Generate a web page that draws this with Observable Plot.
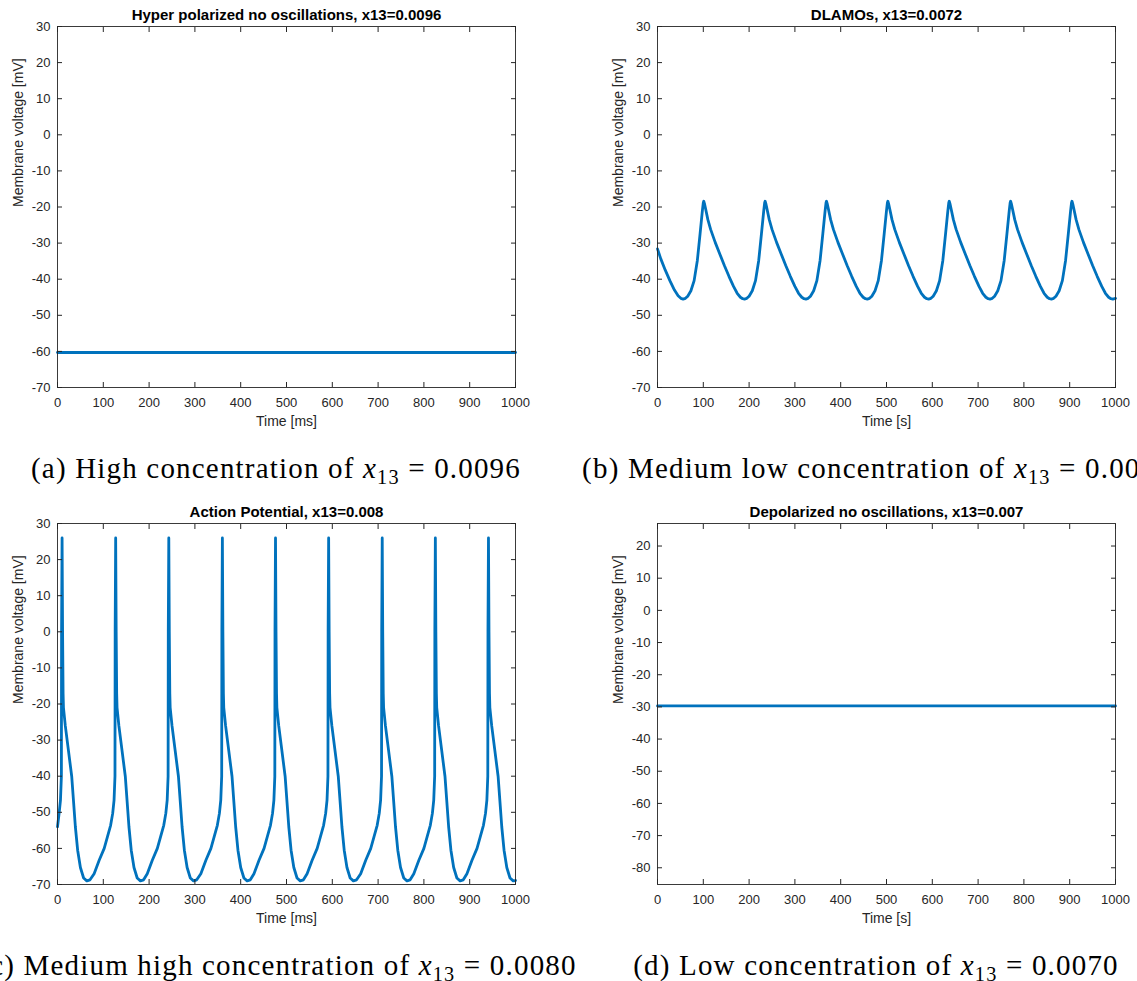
<!DOCTYPE html>
<html><head><meta charset="utf-8">
<script src="https://cdn.jsdelivr.net/npm/d3@7"></script>
<script src="https://cdn.jsdelivr.net/npm/@observablehq/plot@0.6"></script>
<style>
html,body{margin:0;padding:0;background:#fff;width:1137px;height:981px;overflow:hidden;position:relative}
.panel{position:absolute}
.cap{position:absolute;width:700px;text-align:center;white-space:nowrap;font-family:"Liberation Serif","DejaVu Serif",serif;font-size:29px;line-height:34px;color:#000}
.cap sub{font-size:0.7em;vertical-align:baseline;position:relative;top:0.3em}
</style></head><body>
<div id="pa" class="panel" style="left:0;top:6px"></div>
<div id="pb" class="panel" style="left:600px;top:6px"></div>
<div id="pc" class="panel" style="left:0;top:503px"></div>
<div id="pd" class="panel" style="left:600px;top:503px"></div>
<div class="cap" style="left:-74px;top:451px"><span>(a) High concentration of <i>x</i><sub>13</sub> = 0.0096</span></div>
<div class="cap" style="left:527px;top:451px"><span>(b) Medium low concentration of <i>x</i><sub>13</sub> = 0.0072</span></div>
<div class="cap" style="left:-72px;top:948px"><span>(c) Medium high concentration of <i>x</i><sub>13</sub> = 0.0080</span></div>
<div class="cap" style="left:526px;top:948px"><span>(d) Low concentration of <i>x</i><sub>13</sub> = 0.0070</span></div>
<script>
// ---- tick values ----
const xTicks = [0,100,200,300,400,500,600,700,800,900,1000];
const yTicksABC = [-70,-60,-50,-40,-30,-20,-10,0,10,20,30];
const yTicksD = [-80,-70,-60,-50,-40,-30,-20,-10,0,10,20];

// ---- titles & labels ----
const titles = [
  "Hyper polarized no oscillations, x13=0.0096",
  "DLAMOs, x13=0.0072",
  "Action Potential, x13=0.008",
  "Depolarized no oscillations, x13=0.007"
];
const xLabels = ["Time [ms]", "Time [s]", "Time [ms]", "Time [s]"];
const yLabel = "Membrane voltage [mV]";

// ---- (a) hyper polarized: flat ----
const aTime = [0, 1000];
const aVolt = [-60.3, -60.3];

// ---- (b) DLAMOs ----
const bTime = [
  0,7,17,27,37,45,51,56,
  61,66,73,80,87,93,98,100,101,103,105,110,116,126,136,146,156,166,174,181,186,190,
  195,200,207,214,221,227,232,234,235,237,239,244,250,260,270,280,290,300,308,315,320,324,
  329,334,341,348,355,361,366,368,369,371,373,378,384,394,404,414,424,434,442,449,454,458,
  463,468,475,482,489,495,500,502,503,505,507,512,518,528,538,548,558,568,576,583,588,592,
  597,602,609,616,623,629,634,636,637,639,641,646,652,662,672,682,692,702,710,717,722,726,
  731,736,743,750,757,763,768,770,771,773,775,780,786,796,806,816,826,836,844,851,856,860,
  865,870,877,884,891,897,902,904,905,907,909,914,920,930,940,950,960,970,978,985,990,994,
  1000
];
const bVolt = [
  -31.6,-34.3,-37.5,-40.4,-43,-44.6,-45.3,-45.5,
  -45.3,-44.7,-43.2,-40.4,-34.8,-27.4,-21,-18.8,-18.4,-19.3,-20.5,-23.5,-26.2,-29.8,-33,-36.2,-39.2,-42,-43.9,-45,-45.4,-45.5,
  -45.3,-44.7,-43.2,-40.4,-34.8,-27.4,-21,-18.8,-18.4,-19.3,-20.5,-23.5,-26.2,-29.8,-33,-36.2,-39.2,-42,-43.9,-45,-45.4,-45.5,
  -45.3,-44.7,-43.2,-40.4,-34.8,-27.4,-21,-18.8,-18.4,-19.3,-20.5,-23.5,-26.2,-29.8,-33,-36.2,-39.2,-42,-43.9,-45,-45.4,-45.5,
  -45.3,-44.7,-43.2,-40.4,-34.8,-27.4,-21,-18.8,-18.4,-19.3,-20.5,-23.5,-26.2,-29.8,-33,-36.2,-39.2,-42,-43.9,-45,-45.4,-45.5,
  -45.3,-44.7,-43.2,-40.4,-34.8,-27.4,-21,-18.8,-18.4,-19.3,-20.5,-23.5,-26.2,-29.8,-33,-36.2,-39.2,-42,-43.9,-45,-45.4,-45.5,
  -45.3,-44.7,-43.2,-40.4,-34.8,-27.4,-21,-18.8,-18.4,-19.3,-20.5,-23.5,-26.2,-29.8,-33,-36.2,-39.2,-42,-43.9,-45,-45.4,-45.5,
  -45.3,-44.7,-43.2,-40.4,-34.8,-27.4,-21,-18.8,-18.4,-19.3,-20.5,-23.5,-26.2,-29.8,-33,-36.2,-39.2,-42,-43.9,-45,-45.4,-45.5,
  -45.3
];

// ---- (c) action potentials ----
const cTime = [
  0,3.5,6.5,8.5,8.9,10,11.1,12.2,13,17,24,31,35,39,44,50,57,64,71,
  80,91,102,109,116,120.5,123.5,125.5,125.9,127,128.1,129.2,130,134,141,148,152,156,161,167,174,181,188,
  196,207,218,225,232,236.5,239.5,241.5,241.9,243,244.1,245.2,246,250,257,264,268,272,277,283,290,297,304,
  313,324,335,342,349,353.5,356.5,358.5,358.9,360,361.1,362.2,363,367,374,381,385,389,394,400,407,414,421,
  429,440,451,458,465,469.5,472.5,474.5,474.9,476,477.1,478.2,479,483,490,497,501,505,510,516,523,530,537,
  545,556,567,574,581,585.5,588.5,590.5,590.9,592,593.1,594.2,595,599,606,613,617,621,626,632,639,646,653,
  662,673,684,691,698,702.5,705.5,707.5,707.9,709,710.1,711.2,712,716,723,730,734,738,743,749,756,763,770,
  778,789,800,807,814,818.5,821.5,823.5,823.9,825,826.1,827.2,828,832,839,846,850,854,859,865,872,879,886,
  894,905,916,923,930,934.5,937.5,939.5,939.9,941,942.1,943.2,944,948,955,962,966,970,975,981,988,995,
  1000
];
const cVolt = [
  -54,-50.3,-46.6,-40,0,26,0,-17,-21,-26,-33,-40,-47,-54,-60.5,-65.3,-68.2,-69,-68.7,
  -67,-63.3,-60,-56.8,-53.6,-50.3,-46.6,-40,0,26,0,-17,-21,-26,-33,-40,-47,-54,-60.5,-65.3,-68.2,-69,-68.7,
  -67,-63.3,-60,-56.8,-53.6,-50.3,-46.6,-40,0,26,0,-17,-21,-26,-33,-40,-47,-54,-60.5,-65.3,-68.2,-69,-68.7,
  -67,-63.3,-60,-56.8,-53.6,-50.3,-46.6,-40,0,26,0,-17,-21,-26,-33,-40,-47,-54,-60.5,-65.3,-68.2,-69,-68.7,
  -67,-63.3,-60,-56.8,-53.6,-50.3,-46.6,-40,0,26,0,-17,-21,-26,-33,-40,-47,-54,-60.5,-65.3,-68.2,-69,-68.7,
  -67,-63.3,-60,-56.8,-53.6,-50.3,-46.6,-40,0,26,0,-17,-21,-26,-33,-40,-47,-54,-60.5,-65.3,-68.2,-69,-68.7,
  -67,-63.3,-60,-56.8,-53.6,-50.3,-46.6,-40,0,26,0,-17,-21,-26,-33,-40,-47,-54,-60.5,-65.3,-68.2,-69,-68.7,
  -67,-63.3,-60,-56.8,-53.6,-50.3,-46.6,-40,0,26,0,-17,-21,-26,-33,-40,-47,-54,-60.5,-65.3,-68.2,-69,-68.7,
  -67,-63.3,-60,-56.8,-53.6,-50.3,-46.6,-40,0,26,0,-17,-21,-26,-33,-40,-47,-54,-60.5,-65.3,-68.2,-69,
  -68.9
];

// ---- (d) depolarized: flat ----
const dTime = [0, 1000];
const dVolt = [-29.7, -29.7];

const axisColor = "#262626";
const lineColor = "#0072BD";
const fmt = d => String(d);

function panel({time, volt, title, xLabel, yDomain, yTicks, width, marginRight}) {
  const data = time.map((t, i) => ({t, v: volt[i]}));
  return Plot.plot({
    width, height: 426,
    marginTop: 20, marginBottom: 45, marginLeft: 57, marginRight,
    style: {fontFamily: "'Liberation Sans', Arial, sans-serif", fontSize: "13px", color: axisColor, background: "#fff", overflow: "visible"},
    x: {domain: [0, 1000]},
    y: {domain: yDomain},
    marks: [
      Plot.line(data, {x: "t", y: "v", stroke: lineColor, strokeWidth: 2.8, strokeLinejoin: "round"}),
      Plot.frame({stroke: axisColor, strokeWidth: 0.9}),
      Plot.axisX(xTicks, {anchor: "bottom", tickSize: 0, tickPadding: 10, tickFormat: fmt, label: null}),
      Plot.axisX(xTicks, {anchor: "bottom", tickSize: -5, tickFormat: () => "", label: null}),
      Plot.axisX(xTicks, {anchor: "top", tickSize: -5, tickFormat: () => "", label: null}),
      Plot.axisY(yTicks, {anchor: "left", tickSize: 0, tickPadding: 7, tickFormat: fmt, label: null}),
      Plot.axisY(yTicks, {anchor: "left", tickSize: -5, tickFormat: () => "", label: null}),
      Plot.axisY(yTicks, {anchor: "right", tickSize: -5, tickFormat: () => "", label: null}),
      Plot.text([title], {text: d => d, frameAnchor: "top", dy: -11.5, fontWeight: "bold", fontSize: 15, fill: "#000", lineAnchor: "middle"}),
      Plot.text([xLabel], {text: d => d, frameAnchor: "bottom", dy: 34, fontSize: 14, lineAnchor: "middle"}),
      Plot.text([yLabel], {text: d => d, frameAnchor: "left", dx: -39, rotate: -90, fontSize: 14, lineAnchor: "middle"})
    ]
  });
}

document.getElementById("pa").append(panel({time: aTime, volt: aVolt, title: titles[0], xLabel: xLabels[0], yDomain: [-70, 30], yTicks: yTicksABC, width: 560, marginRight: 45}));
document.getElementById("pb").append(panel({time: bTime, volt: bVolt, title: titles[1], xLabel: xLabels[1], yDomain: [-70, 30], yTicks: yTicksABC, width: 537, marginRight: 22}));
document.getElementById("pc").append(panel({time: cTime, volt: cVolt, title: titles[2], xLabel: xLabels[2], yDomain: [-70, 30], yTicks: yTicksABC, width: 560, marginRight: 45}));
document.getElementById("pd").append(panel({time: dTime, volt: dVolt, title: titles[3], xLabel: xLabels[3], yDomain: [-85.2, 27], yTicks: yTicksD, width: 537, marginRight: 22}));

// fit caption letter-spacing so caption (a) spans ~490px like the reference
const spans = document.querySelectorAll(".cap span");
const w0 = spans[0].getBoundingClientRect().width;
const n0 = spans[0].textContent.length;
const ls = (490 - w0) / n0;
spans.forEach(s => s.style.letterSpacing = ls + "px");
</script>
</body></html>
